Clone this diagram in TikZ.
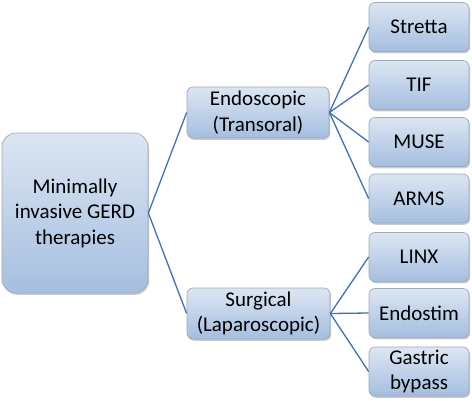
\documentclass[tikz,border=0pt]{standalone}
\usepackage{fontspec}
\setmainfont{Carlito}
\usetikzlibrary{shadows}
\definecolor{boxtop}{HTML}{DCE6F2}
\definecolor{boxbot}{HTML}{A5BEE0}
\definecolor{boxline}{HTML}{9FA9B8}
\definecolor{conncol}{HTML}{3E72B0}
\begin{document}
\begin{tikzpicture}[x=1pt,y=-1pt,
  box/.style={draw=boxline, line width=0.7pt, top color=boxtop, bottom color=boxbot,
    drop shadow={shadow xshift=1.2pt, shadow yshift=-1.8pt, opacity=0.35, fill=black!60},
    align=center, inner sep=0pt, font=\fontsize{21}{25.5}\selectfont},
  rootbox/.style={box, rounded corners=14pt},
  midbox/.style={box, rounded corners=6pt},
  leafbox/.style={box, rounded corners=6pt, minimum width=100pt, minimum height=49pt},
  conn/.style={draw=conncol, line width=1.3pt}]
\useasboundingbox (0,0) rectangle (472,400);
\node[rootbox, minimum width=146pt, minimum height=160pt] (root) at (75,213) {Minimally\\invasive GERD\\therapies};
\node[midbox, minimum width=142pt, minimum height=51pt] (endo) at (258,112.5) {Endoscopic\\(Transoral)};
\node[midbox, minimum width=143pt, minimum height=51pt] (surg) at (258.5,313.5) {Surgical\\(Laparoscopic)};
\node[leafbox] (stretta) at (419,27) {Stretta};
\node[leafbox] (tif) at (419,85) {TIF};
\node[leafbox] (muse) at (419,142) {MUSE};
\node[leafbox] (arms) at (419,198.5) {ARMS};
\node[leafbox] (linx) at (419,257) {LINX};
\node[leafbox] (endostim) at (419,313) {Endostim};
\node[leafbox] (gastric) at (419,371.5) {Gastric\\bypass};
\draw[conn] (root.east) -- (endo.west);
\draw[conn] (root.east) -- (surg.west);
\foreach \t in {stretta,tif,muse,arms}
  \draw[conn] (endo.east) -- (\t.west);
\foreach \t in {linx,endostim,gastric}
  \draw[conn] (surg.east) -- (\t.west);
\end{tikzpicture}
\end{document}
